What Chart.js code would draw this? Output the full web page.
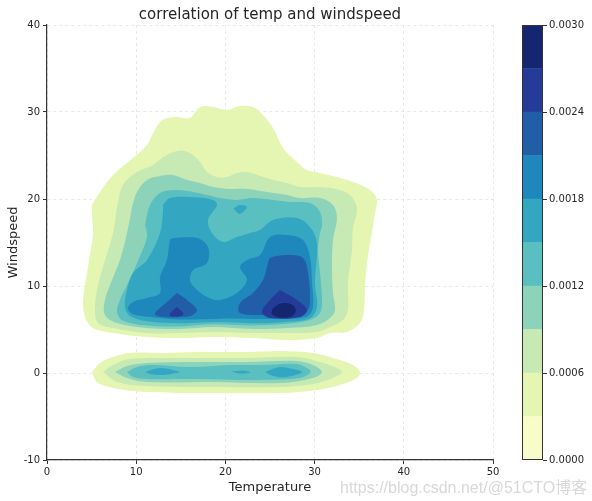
<!DOCTYPE html>
<html><head><meta charset="utf-8">
<script src="https://cdn.jsdelivr.net/npm/chart.js@4"></script>
<style>
html,body{margin:0;padding:0;background:#fff;}
#wrap{position:relative;width:592px;height:501px;overflow:hidden;}
#main{position:absolute;left:0;top:0;}
#cbar{position:absolute;left:505px;top:0;}
#wm{position:absolute;left:340px;top:474px;font:16px "Liberation Sans","Noto Sans CJK SC",sans-serif;color:#d8d8d8;white-space:nowrap;}
</style></head><body>
<div id="wrap">
<canvas id="main" width="512" height="501" style="width:512px;height:501px"></canvas>
<canvas id="cbar" width="87" height="501" style="width:87px;height:501px"></canvas>
<div id="wm">https://blog.csdn.net/@51CTO博客</div>
</div>
<script>
// ---------- data ----------
const titleText = 'correlation of temp and windspeed';
const xLabel = 'Temperature';
const yLabel = 'Windspeed';
const xTicks = [0, 10, 20, 30, 40, 50];
const yTicks = [-10, 0, 10, 20, 30, 40];
const levelBounds = [0, 0.0003, 0.0006, 0.0009, 0.0012, 0.0015, 0.0018, 0.0021, 0.0024, 0.0027, 0.0030];
const cbTicks = [0, 0.0006, 0.0012, 0.0018, 0.0024, 0.0030];
const levelColors = ['#f8fcc8', '#e5f5b2', '#c7e9b4', '#8dd3ba', '#5abfc0', '#33a7c2', '#1e87bb', '#225ea8', '#243c98', '#142670'];

// contour outlines [temperature, windspeed]
const L1_upper = [[5.04,19.31],[5.94,20.80],[7.40,22.76],[9.64,24.71],[11.21,26.21],[11.77,27.36],[12.67,28.85],[13.45,29.31],[14.57,29.43],[16.03,29.31],[17.15,30.57],[18.61,30.57],[20.18,30.23],[21.64,30.69],[23.09,30.57],[24.22,29.66],[25.34,28.16],[26.46,25.86],[28.03,24.25],[29.15,23.33],[30.61,22.99],[32.51,22.53],[34.30,21.95],[35.87,21.26],[36.77,20.46],[37.0,19.66],[36.77,18.39],[36.43,16.09],[35.87,12.64],[35.65,9.89],[35.54,7.24],[35.09,5.75],[33.63,4.71],[31.73,4.60],[30.27,4.02],[26.91,3.79],[23.09,4.02],[18.61,4.14],[14.91,4.02],[11.21,4.14],[7.40,4.60],[5.16,5.17],[4.26,6.44],[4.04,8.39],[4.60,12.18],[5.16,16.09],[5.04,18.16]];
const L2_upper = [[7.85,19.08],[8.52,21.61],[10.09,23.10],[11.88,23.91],[13.45,25.06],[14.69,25.52],[16.03,25.29],[17.15,24.25],[17.94,23.10],[19.06,22.53],[20.18,22.53],[21.30,22.99],[22.42,23.10],[23.54,22.76],[25.34,22.18],[26.91,21.84],[28.36,21.38],[29.82,21.38],[31.73,21.26],[33.63,20.69],[34.53,19.66],[34.75,18.51],[34.30,16.78],[34.19,14.14],[33.74,10.34],[33.74,7.24],[33.18,6.09],[31.73,5.29],[30.27,4.71],[26.91,4.60],[23.09,4.60],[18.61,4.71],[14.91,4.60],[11.21,4.60],[7.40,5.17],[5.72,5.75],[5.38,7.24],[5.61,9.54],[6.28,12.18],[7.40,16.09]];
const L3_upper = [[9.53,19.08],[10.09,20.80],[11.21,22.18],[12.67,22.64],[14.13,22.76],[15.70,22.18],[17.15,21.84],[18.61,21.38],[20.52,21.15],[22.42,21.15],[24.66,20.80],[26.91,20.46],[28.36,20.11],[30.61,20.11],[32.06,19.31],[32.51,17.82],[32.06,15.29],[31.95,12.18],[32.06,9.20],[32.29,7.24],[31.73,6.32],[30.27,5.52],[26.91,5.17],[23.09,5.06],[18.61,5.29],[14.91,5.06],[11.21,5.17],[7.85,5.75],[6.50,6.67],[6.50,8.39],[7.29,10.69],[8.18,12.99],[8.97,16.09]];
const L4_upper = [[10.99,17.01],[11.55,19.31],[12.67,20.69],[14.57,21.03],[16.37,20.80],[17.94,20.46],[19.39,20.11],[21.30,19.89],[23.09,20.11],[25.34,19.89],[27.24,19.66],[29.48,19.54],[30.61,18.51],[30.83,17.01],[30.61,16.09],[30.38,14.14],[30.61,11.49],[30.83,8.39],[30.61,6.90],[29.48,6.09],[26.91,5.65],[23.09,5.45],[18.61,5.60],[14.91,5.35],[11.21,5.45],[8.52,6.00],[7.85,7.01],[8.18,8.39],[9.08,10.34],[10.09,12.64],[11.21,15.63]];
const L5_upper = [[13.00,19.31],[13.79,20.11],[16.03,20.23],[18.61,19.89],[19.06,19.31],[18.05,17.59],[18.50,16.09],[19.73,15.06],[21.30,15.63],[22.76,16.09],[23.88,16.44],[25.34,17.59],[28.03,17.82],[29.48,16.78],[30.27,14.94],[30.04,10.34],[30.27,7.59],[29.48,6.30],[26.91,5.90],[23.09,5.72],[19.39,5.85],[14.91,5.72],[11.21,5.95],[9.30,6.55],[8.74,7.59],[8.97,9.54],[9.64,11.49],[11.21,12.99],[12.67,16.09],[13.00,18.51]];
const L5_island = [[20.9,18.9],[21.6,19.3],[22.4,19.1],[22.0,18.5],[21.5,18.3]];
const L6_upper = [[14.13,15.52],[16.82,15.52],[18.05,14.48],[17.94,12.64],[16.37,11.84],[16.03,10.69],[16.59,9.77],[17.94,8.74],[19.39,8.39],[21.30,9.20],[22.42,10.69],[21.64,12.18],[22.42,12.99],[23.88,13.56],[25.00,15.63],[26.91,15.86],[28.70,15.29],[29.48,13.33],[29.71,10.34],[29.82,7.59],[29.15,6.50],[26.91,6.25],[23.09,6.20],[19.39,6.25],[14.91,6.15],[11.88,6.40],[9.64,6.75],[9.08,7.40],[9.64,8.16],[11.21,8.62],[12.67,9.20],[12.67,11.03],[13.45,12.99],[13.79,15.29]];
const L7_left = [[14.57,9.20],[15.70,8.39],[16.82,7.24],[16.03,6.55],[13.00,6.44],[12.10,6.80],[13.45,8.16]];
const L7_right = [[24.78,12.64],[25.00,13.22],[26.91,13.56],[28.70,13.22],[29.26,11.49],[29.48,8.74],[29.26,7.24],[28.03,6.67],[25.00,6.67],[21.64,6.90],[21.64,8.05],[23.09,9.20],[24.22,10.69]];
const L8_left = [[14.6,7.6],[15.3,6.8],[14.9,6.55],[13.8,6.55],[13.9,7.0]];
const L8_right = [[26.12,9.54],[28.03,8.39],[29.15,7.24],[28.36,6.44],[25.00,6.32],[24.10,7.01],[25.00,8.39]];
const L9_peak = [[25.3,7.4],[26.2,8.0],[27.4,7.9],[27.9,7.2],[27.4,6.5],[26.0,6.4],[25.2,6.8]];

const L1_lower = [[5.04,0.11],[5.94,1.15],[7.40,1.84],[9.30,2.30],[13.00,2.30],[16.82,2.41],[22.42,2.41],[26.12,2.53],[29.82,2.30],[32.06,1.72],[34.30,0.92],[35.09,0.11],[34.75,-0.57],[32.85,-1.38],[30.27,-1.95],[26.12,-2.30],[18.61,-2.30],[11.21,-2.18],[7.40,-1.72],[5.61,-1.03]];
const L2_lower = [[6.28,0.11],[7.40,0.92],[9.30,1.61],[14.91,1.72],[22.42,1.72],[28.03,1.84],[30.61,1.26],[32.51,0.57],[33.07,0.11],[32.06,-0.57],[29.82,-1.26],[26.12,-1.61],[18.61,-1.61],[11.21,-1.49],[7.85,-1.03]];
const L3_lower = [[7.62,0.11],[8.97,0.80],[11.21,1.15],[16.82,1.26],[22.42,1.26],[28.03,1.38],[29.82,0.92],[30.83,0.11],[29.82,-0.57],[26.12,-1.15],[18.61,-1.03],[11.21,-1.03],[8.97,-0.57]];
const L4_lower = [[8.97,0.11],[10.09,0.69],[11.88,0.92],[16.03,0.69],[20.52,0.92],[24.22,0.92],[28.03,1.03],[29.48,0.34],[29.48,0.0],[28.36,-0.57],[22.42,-0.80],[16.82,-0.69],[11.21,-0.69],[9.64,-0.46]];
const L5_lowerLeft = [[10.99,0.11],[12.67,0.57],[14.57,0.23],[14.91,0.11],[13.00,-0.23],[11.55,-0.11]];
const L5_lowerMid = [[20.7,0.2],[22.0,0.25],[22.8,0.05],[21.5,-0.05]];
const L5_lowerRight = [[24.44,0.11],[26.12,0.69],[27.58,0.46],[28.59,0.11],[26.91,-0.46],[25.34,-0.34]];

const contourLevels = [
  {level: 1, polys: [L1_upper, L1_lower]},
  {level: 2, polys: [L2_upper, L2_lower]},
  {level: 3, polys: [L3_upper, L3_lower]},
  {level: 4, polys: [L4_upper, L4_lower]},
  {level: 5, polys: [L5_upper, L5_island, L5_lowerLeft, L5_lowerMid, L5_lowerRight]},
  {level: 6, polys: [L6_upper]},
  {level: 7, polys: [L7_left, L7_right]},
  {level: 8, polys: [L8_left, L8_right]},
  {level: 9, polys: [L9_peak]}
];

// ---------- main chart ----------
const FONT = 'DejaVu Sans';
const TXT = '#262626';
const datasets = [];
contourLevels.forEach(cl => {
  cl.polys.forEach(p => {
    const pts = p.map(q => ({x: q[0], y: q[1]}));
    pts.push({x: p[0][0], y: p[0][1]});
    datasets.push({
      data: pts,
      showLine: true,
      fill: 'shape',
      backgroundColor: levelColors[cl.level],
      borderColor: 'rgba(0,0,0,0)',
      borderWidth: 0,
      pointRadius: 0,
      pointHoverRadius: 0,
      tension: 0.35,
      order: 20 - cl.level
    });
  });
});

new Chart(document.getElementById('main'), {
  type: 'scatter',
  data: {datasets},
  options: {
    responsive: false,
    animation: false,
    events: [],
    layout: {padding: {left: 0, right: 19, top: 0, bottom: 0}},
    plugins: {
      legend: {display: false},
      tooltip: {enabled: false},
      title: {display: true, text: titleText, fullSize: false, color: TXT,
        font: {family: FONT, size: 15, weight: 'normal', lineHeight: 1.2}, padding: {top: 6, bottom: 1}}
    },
    scales: {
      x: {
        type: 'linear', min: xTicks[0], max: xTicks[xTicks.length - 1],
        afterBuildTicks: s => { s.ticks = xTicks.map(v => ({value: v})); },
        afterFit: s => { s.height = 41; },
        ticks: {color: TXT, font: {family: FONT, size: 10}, padding: 2, maxRotation: 0},
        grid: {color: '#e3e3e3', lineWidth: 0.8, tickColor: '#333', tickLength: 4, tickBorderDash: [], tickWidth: 1},
        border: {display: true, color: '#333', width: 1.2, dash: [3, 3]},
        title: {display: true, text: xLabel, color: TXT, font: {family: FONT, size: 13}, padding: {top: 6, bottom: 6}}
      },
      y: {
        type: 'linear', min: yTicks[0], max: yTicks[yTicks.length - 1],
        afterBuildTicks: s => { s.ticks = yTicks.map(v => ({value: v})); },
        afterFit: s => { s.width = 47; },
        ticks: {color: TXT, font: {family: FONT, size: 10}, padding: 3},
        grid: {color: '#e3e3e3', lineWidth: 0.8, tickColor: '#333', tickLength: 4, tickBorderDash: [], tickWidth: 1},
        border: {display: true, color: '#333', width: 1.2, dash: [3, 3]},
        title: {display: true, text: yLabel, color: TXT, font: {family: FONT, size: 13}, padding: {top: 6, bottom: 4}}
      }
    }
  }
});

// ---------- colour bar ----------
const cbDatasets = levelColors.map((c, i) => ({
  data: [[levelBounds[i], levelBounds[i + 1]]],
  backgroundColor: c,
  borderWidth: 0,
  grouped: false,
  barPercentage: 1,
  categoryPercentage: 1
}));
const framePlugin = {
  id: 'frame',
  afterDatasetsDraw(chart) {
    const a = chart.chartArea, ctx = chart.ctx;
    ctx.save();
    ctx.strokeStyle = '#333';
    ctx.lineWidth = 1;
    ctx.strokeRect(Math.round(a.left) + 0.5, Math.round(a.top) + 0.5, Math.round(a.right - a.left) - 1, Math.round(a.bottom - a.top) - 1);
    ctx.restore();
  }
};
new Chart(document.getElementById('cbar'), {
  type: 'bar',
  data: {labels: [''], datasets: cbDatasets},
  options: {
    responsive: false,
    animation: false,
    events: [],
    layout: {padding: {left: 17, right: 0, top: 25, bottom: 41}},
    plugins: {legend: {display: false}, tooltip: {enabled: false}},
    scales: {
      x: {display: false},
      y: {
        position: 'right', min: levelBounds[0], max: levelBounds[levelBounds.length - 1],
        afterBuildTicks: s => { s.ticks = cbTicks.map(v => ({value: v})); },
        afterFit: s => { s.width = 49; },
        ticks: {color: TXT, font: {family: FONT, size: 10}, padding: 2, callback: v => Number(v).toFixed(4)},
        grid: {display: true, drawOnChartArea: false, tickColor: '#333', tickLength: 4},
        border: {display: false}
      }
    }
  },
  plugins: [framePlugin]
});
</script>
</body></html>
